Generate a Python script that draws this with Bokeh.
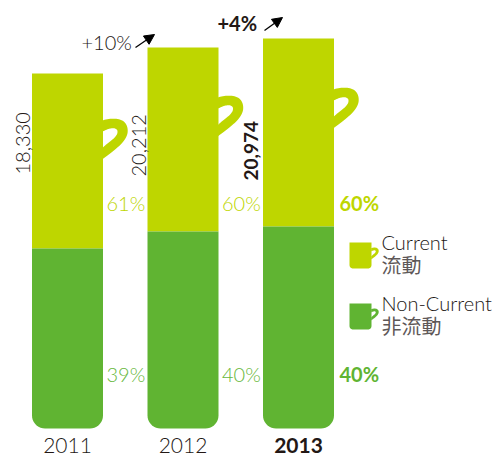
import numpy as np
from bokeh.plotting import figure
from bokeh.models import Arrow, NormalHead, Range1d
from bokeh.core.properties import value
from bokeh.embed import file_html
from bokeh.resources import INLINE

years = ["2011", "2012", "2013"]
totals = ["18,330", "20,212", "20,974"]
current_pct = ["61%", "60%", "60%"]
noncurrent_pct = ["39%", "40%", "40%"]
# drawn segment heights (the original is not to scale)
noncurrent_h = [180, 197, 202]
current_h = [175, 184, 188]
growth = [None, "+10%", "+4%"]

LIME = "#BED600"
GREEN = "#60B432"
LIME_L = "#BED600"
GREEN_L = "#68B83C"
DARK = "#231815"
CJK_INK = "#5E5858"
LATIN = "Lato Light, Lato"
CJK = "Noto Sans CJK TC"

W, H = 496, 456
STEP = 115.5
X0 = 67
BASE = 428
p = figure(width=W, height=H, output_backend="svg", toolbar_location=None,
           x_range=Range1d((0 - X0) / STEP, (W - X0) / STEP),
           y_range=Range1d(BASE - H, BASE),
           min_border=0, outline_line_color=None, background_fill_color="white",
           border_fill_color="white")
p.axis.visible = False
p.grid.visible = False


def ux(px):  # page pixel offset to data units
    return (px - X0) / STEP


def uy(py):
    return BASE - py


def bez(a, b, c, d, n=24):
    t = np.linspace(0, 1, n)[:, None]
    a, b, c, d = map(np.array, (a, b, c, d))
    return (1 - t) ** 3 * a + 3 * (1 - t) ** 2 * t * b + 3 * (1 - t) * t ** 2 * c + t ** 3 * d


def cup_body(x0, x1, y0, y1, r):
    """Rectangle (pixel box) with rounded lower corners."""
    th = np.linspace(0, np.pi / 2, 10)
    xs = [x0, x1] + list(x1 - r + r * np.sin(th[::-1])) + list(x0 + r - r * np.sin(th))
    ys = [y0, y0] + list(y1 - r + r * np.cos(th[::-1])) + list(y1 - r + r * np.cos(th))
    return xs, ys


def handle(xr, top, s=1.0):
    """Handle ribbon; xr = body's right edge, top = handle's top, s = scale."""
    P = lambda dx, dy: (xr + dx * s, top + dy * s)
    o1 = bez(P(-1, 2), P(8, -1), P(24, -2), P(24, 12))
    o2 = bez(P(24, 12), P(24, 22), P(12, 30), P(-1, 40))
    i1 = bez(P(-1, 29), P(6, 22), P(15, 18), P(14, 12))
    i2 = bez(P(14, 12), P(13, 8), P(6, 9), P(-1, 13))
    pts = np.vstack([o1, o2, i1, i2])
    return list(pts[:, 0]), list(pts[:, 1])


half = 35.5
drops = [45, 48, 49]
for i, (nc, cu) in enumerate(zip(noncurrent_h, current_h)):
    cx = X0 + STEP * i
    x0, x1 = cx - half, cx + half
    top = BASE - nc - cu
    mid = BASE - nc
    hx, hy = handle(x1, top + drops[i], 1.03)
    p.patch([ux(v) for v in hx], [uy(v) for v in hy], fill_color=LIME, line_color=None)
    p.vbar(x=[i], bottom=[nc], top=[nc + cu], width=2 * half / STEP,
           fill_color=LIME, line_color=None)
    bx, by = cup_body(x0, x1, mid, BASE, 13)
    p.patch([ux(v) for v in bx], [uy(v) for v in by], fill_color=GREEN, line_color=None)


def label(px, py, txt, size, color, font=LATIN, style="normal", align="left", angle=0.0,
          baseline="middle"):
    p.text(x=[ux(px)], y=[uy(py)], text=[txt], text_font=value(font),
           text_font_size=f"{size}px", text_font_style=style, text_color=color,
           text_align=align, text_baseline=baseline, angle=angle)


# totals (rotated), percentages, years
num_x = [22, 138, 250]
num_bottom = [174, 176, 180]
for i in range(3):
    bold = i == 2
    st = "bold" if bold else "normal"
    f = "Lato" if bold else LATIN
    cx = X0 + STEP * i
    label(num_x[i], num_bottom[i], totals[i], 20 if not bold else 19, DARK,
          style=st, angle=np.pi / 2, font=f)
    label(cx + half + (3.5 if not bold else 5.5), 202, current_pct[i], 20,
          LIME if bold else LIME_L, style=st, font=f)
    label(cx + half + (3.5 if not bold else 5.5), 373, noncurrent_pct[i], 20,
          GREEN if bold else GREEN_L, style=st, font=f)
    label(cx, 445, years[i], 21, DARK, style=st, align="center", font=f)

# growth notes
label(81, 41, growth[1], 20, DARK)
label(217, 22, growth[2], 20, DARK, style="bold", font="Lato")
for (a, b, c, d) in [(135, 47, 154, 34), (264, 30, 282, 17)]:
    p.add_layout(Arrow(x_start=ux(a), y_start=uy(b), x_end=ux(c), y_end=uy(d),
                       line_color="black", line_width=1.3,
                       end=NormalHead(size=10, fill_color="black", line_color="black")))

# legend
for (col, y0, l1, l2) in [(LIME, 242, "Current", "流動"), (GREEN, 303, "Non-Current", "非流動")]:
    bx, by = cup_body(349, 371, y0, y0 + 26, 3.5)
    hx, hy = handle(371, y0 + 5, 0.3)
    p.patch([ux(v) for v in hx], [uy(v) for v in hy], fill_color=col, line_color=None)
    p.patch([ux(v) for v in bx], [uy(v) for v in by], fill_color=col, line_color=None)
    label(381, y0 - 1, l1, 20, DARK)
    label(381, y0 + 22, l2, 20, CJK_INK, font=CJK)

open("out.html", "w").write(file_html(p, INLINE))
